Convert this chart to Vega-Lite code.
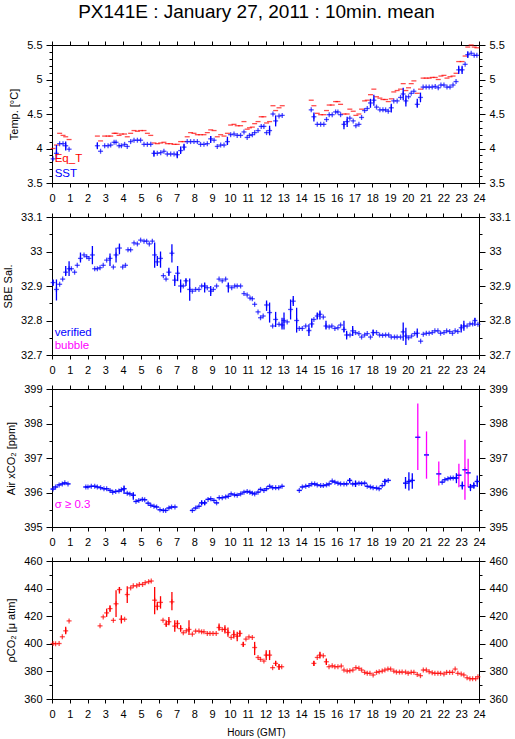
{
  "$schema": "https://vega.github.io/schema/vega-lite/v6.json",
  "background": "white",
  "padding": {"left": 2, "top": 2, "right": 2, "bottom": 0},
  "title": {"text": "PX141E : January 27, 2011 : 10min. mean", "font": "Liberation Sans", "fontSize": 19, "fontWeight": "normal", "color": "black", "anchor": "middle", "offset": 17},
  "config": {
    "view": {"stroke": "black", "strokeWidth": 1},
    "axis": {"labelFont": "Liberation Sans", "titleFont": "Liberation Sans", "labelFontSize": 11, "titleFontSize": 11, "titleFontWeight": "normal", "labelColor": "black", "titleColor": "black", "tickColor": "black", "domainColor": "black", "grid": false, "labelFlush": false, "labelOverlap": false, "tickWidth": 1, "domainWidth": 1},
    "tick": {"thickness": 1.3},
    "text": {"font": "Liberation Sans"}
  },
  "spacing": 34,
  "bounds": "flush",
  "vconcat": [
    {
      "width": 427, "height": 138,
      "layer": [
        {"data": {"name": "eqt"}, "mark": {"type": "tick", "orient": "horizontal", "size": 5, "color": "#ff0000"},
         "encoding": {
           "x": {"field": "t", "type": "quantitative", "scale": {"domain": [0, 24], "nice": false, "zero": false}, "axis": {"orient": "bottom", "values": [0,1,2,3,4,5,6,7,8,9,10,11,12,13,14,15,16,17,18,19,20,21,22,23,24], "tickSize": 4, "labelPadding": 5, "title": null}},
           "y": {"field": "v", "type": "quantitative", "scale": {"domain": [3.5, 5.5], "nice": false, "zero": false}, "axis": {"orient": "left", "values": [3.5, 4, 4.5, 5, 5.5], "format": ".4~r", "tickSize": 6, "labelPadding": 4, "title": "Temp. [°C]", "titlePadding": 7}}}},
        {"data": {"name": "sst"}, "mark": {"type": "tick", "orient": "horizontal", "size": 5, "color": "#0000ff"},
         "encoding": {
           "x": {"field": "t", "type": "quantitative", "scale": {"domain": [0, 24], "nice": false, "zero": false}, "axis": {"orient": "top", "values": [0,1,2,3,4,5,6,7,8,9,10,11,12,13,14,15,16,17,18,19,20,21,22,23,24], "tickSize": 4, "labels": false, "title": null}},
           "y": {"field": "v", "type": "quantitative", "scale": {"domain": [3.5, 5.5], "nice": false, "zero": false}, "axis": {"orient": "right", "values": [3.5, 4, 4.5, 5, 5.5], "format": ".4~r", "tickSize": 6, "labelPadding": 4, "title": null}}}},
        {"data": {"name": "sst"}, "mark": {"type": "tick", "orient": "vertical", "size": 5, "color": "#0000ff"},
         "encoding": {
           "x": {"field": "t", "type": "quantitative", "scale": {"domain": [0, 24], "nice": false, "zero": false}, "axis": null},
           "y": {"field": "v", "type": "quantitative", "scale": {"domain": [3.5, 5.5], "nice": false, "zero": false}, "axis": {"orient": "left", "values": [3.6,3.7,3.8,3.9,4.1,4.2,4.3,4.4,4.6,4.7,4.8,4.9,5.1,5.2,5.3,5.4], "tickSize": 3, "labels": false, "domain": false, "title": null}}}},
        {"data": {"name": "sst"}, "transform": [{"filter": "isValid(datum.lo)"}], "mark": {"type": "rule", "color": "#0000ff", "strokeWidth": 1.3},
         "encoding": {
           "x": {"field": "t", "type": "quantitative", "scale": {"domain": [0, 24], "nice": false, "zero": false}, "axis": null},
           "y": {"field": "lo", "type": "quantitative", "scale": {"domain": [3.5, 5.5], "nice": false, "zero": false}, "axis": {"orient": "right", "values": [3.6,3.7,3.8,3.9,4.1,4.2,4.3,4.4,4.6,4.7,4.8,4.9,5.1,5.2,5.3,5.4], "tickSize": 3, "labels": false, "domain": false, "title": null}},
           "y2": {"field": "hi"}}},
        {"data": {"values": [{}]}, "mark": {"type": "text", "text": "Eq_T", "align": "left", "baseline": "middle", "fontSize": 11.5, "color": "#ff0000"},
         "encoding": {
           "x": {"datum": 0.15, "type": "quantitative", "scale": {"domain": [0, 24], "nice": false, "zero": false}, "axis": null},
           "y": {"datum": 3.85, "type": "quantitative", "scale": {"domain": [3.5, 5.5], "nice": false, "zero": false}, "axis": null}}},
        {"data": {"values": [{}]}, "mark": {"type": "text", "text": "SST", "align": "left", "baseline": "middle", "fontSize": 11.5, "color": "#0000ff"},
         "encoding": {
           "x": {"datum": 0.15, "type": "quantitative", "scale": {"domain": [0, 24], "nice": false, "zero": false}, "axis": null},
           "y": {"datum": 3.63, "type": "quantitative", "scale": {"domain": [3.5, 5.5], "nice": false, "zero": false}, "axis": null}}}
      ],
      "resolve": {"axis": {"x": "independent", "y": "independent"}}
    },
    {
      "width": 427, "height": 138,
      "layer": [
        {"data": {"name": "sal"}, "mark": {"type": "tick", "orient": "horizontal", "size": 5, "color": "#0000ff"},
         "encoding": {
           "x": {"field": "t", "type": "quantitative", "scale": {"domain": [0, 24], "nice": false, "zero": false}, "axis": {"orient": "bottom", "values": [0,1,2,3,4,5,6,7,8,9,10,11,12,13,14,15,16,17,18,19,20,21,22,23,24], "tickSize": 4, "labelPadding": 5, "title": null}},
           "y": {"field": "v", "type": "quantitative", "scale": {"domain": [32.7, 33.1], "nice": false, "zero": false}, "axis": {"orient": "left", "values": [32.7, 32.8, 32.9, 33, 33.1], "format": ".4~r", "tickSize": 6, "labelPadding": 4, "title": "SBE Sal.", "titlePadding": 7}}}},
        {"data": {"name": "sal"}, "mark": {"type": "tick", "orient": "vertical", "size": 5, "color": "#0000ff"},
         "encoding": {
           "x": {"field": "t", "type": "quantitative", "scale": {"domain": [0, 24], "nice": false, "zero": false}, "axis": {"orient": "top", "values": [0,1,2,3,4,5,6,7,8,9,10,11,12,13,14,15,16,17,18,19,20,21,22,23,24], "tickSize": 4, "labels": false, "title": null}},
           "y": {"field": "v", "type": "quantitative", "scale": {"domain": [32.7, 33.1], "nice": false, "zero": false}, "axis": {"orient": "right", "values": [32.7, 32.8, 32.9, 33, 33.1], "format": ".4~r", "tickSize": 6, "labelPadding": 4, "title": null}}}},
        {"data": {"name": "sal"}, "transform": [{"filter": "isValid(datum.lo)"}], "mark": {"type": "rule", "color": "#0000ff", "strokeWidth": 1.3},
         "encoding": {
           "x": {"field": "t", "type": "quantitative", "scale": {"domain": [0, 24], "nice": false, "zero": false}, "axis": null},
           "y": {"field": "lo", "type": "quantitative", "scale": {"domain": [32.7, 33.1], "nice": false, "zero": false}, "axis": {"orient": "left", "values": [32.75, 32.85, 32.95, 33.05], "tickSize": 3, "labels": false, "domain": false, "title": null}},
           "y2": {"field": "hi"}}},
        {"data": {"values": [{}]}, "mark": {"type": "text", "text": "verified", "align": "left", "baseline": "middle", "fontSize": 11.5, "color": "#0000ff"},
         "encoding": {
           "x": {"datum": 0.15, "type": "quantitative", "scale": {"domain": [0, 24], "nice": false, "zero": false}, "axis": null},
           "y": {"datum": 32.765, "type": "quantitative", "scale": {"domain": [32.7, 33.1], "nice": false, "zero": false}, "axis": {"orient": "right", "values": [32.75, 32.85, 32.95, 33.05], "tickSize": 3, "labels": false, "domain": false, "title": null}}}},
        {"data": {"values": [{}]}, "mark": {"type": "text", "text": "bubble", "align": "left", "baseline": "middle", "fontSize": 11.5, "color": "#ff00ff"},
         "encoding": {
           "x": {"datum": 0.15, "type": "quantitative", "scale": {"domain": [0, 24], "nice": false, "zero": false}, "axis": null},
           "y": {"datum": 32.727, "type": "quantitative", "scale": {"domain": [32.7, 33.1], "nice": false, "zero": false}, "axis": null}}}
      ],
      "resolve": {"axis": {"x": "independent", "y": "independent"}}
    },
    {
      "width": 427, "height": 138,
      "layer": [
        {"data": {"name": "xco2"}, "mark": {"type": "tick", "orient": "horizontal", "size": 5, "color": "#0000ff"},
         "encoding": {
           "x": {"field": "t", "type": "quantitative", "scale": {"domain": [0, 24], "nice": false, "zero": false}, "axis": {"orient": "bottom", "values": [0,1,2,3,4,5,6,7,8,9,10,11,12,13,14,15,16,17,18,19,20,21,22,23,24], "tickSize": 4, "labelPadding": 5, "title": null}},
           "y": {"field": "v", "type": "quantitative", "scale": {"domain": [395, 399], "nice": false, "zero": false}, "axis": {"orient": "left", "values": [395, 396, 397, 398, 399], "format": ".4~r", "tickSize": 6, "labelPadding": 4, "title": "Air xCO₂ [ppm]", "titlePadding": 7}}}},
        {"data": {"name": "xco2"}, "mark": {"type": "tick", "orient": "vertical", "size": 5},
         "encoding": {
           "x": {"field": "t", "type": "quantitative", "scale": {"domain": [0, 24], "nice": false, "zero": false}, "axis": {"orient": "top", "values": [0,1,2,3,4,5,6,7,8,9,10,11,12,13,14,15,16,17,18,19,20,21,22,23,24], "tickSize": 4, "labels": false, "title": null}},
           "y": {"field": "v", "type": "quantitative", "scale": {"domain": [395, 399], "nice": false, "zero": false}, "axis": {"orient": "right", "values": [395, 396, 397, 398, 399], "format": ".4~r", "tickSize": 6, "labelPadding": 4, "title": null}},
           "color": {"condition": {"test": "isValid(datum.lo) && (datum.hi - datum.lo) / 2 >= 0.3", "value": "#ff00ff"}, "value": "#0000ff"}}},
        {"data": {"name": "xco2"}, "transform": [{"filter": "isValid(datum.lo)"}], "mark": {"type": "rule", "strokeWidth": 1.3},
         "encoding": {
           "x": {"field": "t", "type": "quantitative", "scale": {"domain": [0, 24], "nice": false, "zero": false}, "axis": null},
           "y": {"field": "lo", "type": "quantitative", "scale": {"domain": [395, 399], "nice": false, "zero": false}, "axis": {"orient": "left", "values": [395.5, 396.5, 397.5, 398.5], "tickSize": 3, "labels": false, "domain": false, "title": null}},
           "y2": {"field": "hi"},
           "color": {"condition": {"test": "(datum.hi - datum.lo) / 2 >= 0.3", "value": "#ff00ff"}, "value": "#0000ff"}}},
        {"data": {"name": "xco2"}, "mark": {"type": "tick", "orient": "horizontal", "size": 5, "color": "#0000ff"},
         "encoding": {
           "x": {"field": "t", "type": "quantitative", "scale": {"domain": [0, 24], "nice": false, "zero": false}, "axis": null},
           "y": {"field": "v", "type": "quantitative", "scale": {"domain": [395, 399], "nice": false, "zero": false}, "axis": {"orient": "right", "values": [395.5, 396.5, 397.5, 398.5], "tickSize": 3, "labels": false, "domain": false, "title": null}}}},
        {"data": {"values": [{}]}, "mark": {"type": "text", "text": "σ ≥ 0.3", "align": "left", "baseline": "middle", "fontSize": 11.5, "color": "#ff00ff"},
         "encoding": {
           "x": {"datum": 0.15, "type": "quantitative", "scale": {"domain": [0, 24], "nice": false, "zero": false}, "axis": null},
           "y": {"datum": 395.65, "type": "quantitative", "scale": {"domain": [395, 399], "nice": false, "zero": false}, "axis": null}}}
      ],
      "resolve": {"axis": {"x": "independent", "y": "independent"}}
    },
    {
      "width": 427, "height": 138,
      "layer": [
        {"data": {"name": "pco2"}, "mark": {"type": "tick", "orient": "horizontal", "size": 5, "color": "#ff0000"},
         "encoding": {
           "x": {"field": "t", "type": "quantitative", "scale": {"domain": [0, 24], "nice": false, "zero": false}, "axis": {"orient": "bottom", "values": [0,1,2,3,4,5,6,7,8,9,10,11,12,13,14,15,16,17,18,19,20,21,22,23,24], "tickSize": 4, "labelPadding": 5, "title": "Hours (GMT)", "titleFontSize": 10, "titlePadding": 8, "titleX": 204}},
           "y": {"field": "v", "type": "quantitative", "scale": {"domain": [360, 460], "nice": false, "zero": false}, "axis": {"orient": "left", "values": [360, 380, 400, 420, 440, 460], "format": ".4~r", "tickSize": 6, "labelPadding": 4, "title": "ρCO₂ [μ atm]", "titlePadding": 7}}}},
        {"data": {"name": "pco2"}, "mark": {"type": "tick", "orient": "vertical", "size": 5, "color": "#ff0000"},
         "encoding": {
           "x": {"field": "t", "type": "quantitative", "scale": {"domain": [0, 24], "nice": false, "zero": false}, "axis": {"orient": "top", "values": [0,1,2,3,4,5,6,7,8,9,10,11,12,13,14,15,16,17,18,19,20,21,22,23,24], "tickSize": 4, "labels": false, "title": null}},
           "y": {"field": "v", "type": "quantitative", "scale": {"domain": [360, 460], "nice": false, "zero": false}, "axis": {"orient": "right", "values": [360, 380, 400, 420, 440, 460], "format": ".4~r", "tickSize": 6, "labelPadding": 4, "title": null}}}},
        {"data": {"name": "pco2"}, "transform": [{"filter": "isValid(datum.lo)"}], "mark": {"type": "rule", "color": "#ff0000", "strokeWidth": 1.3},
         "encoding": {
           "x": {"field": "t", "type": "quantitative", "scale": {"domain": [0, 24], "nice": false, "zero": false}, "axis": null},
           "y": {"field": "lo", "type": "quantitative", "scale": {"domain": [360, 460], "nice": false, "zero": false}, "axis": {"orient": "left", "values": [370, 390, 410, 430, 450], "tickSize": 3, "labels": false, "domain": false, "title": null}},
           "y2": {"field": "hi"}}},
        {"data": {"values": [{}]}, "mark": {"type": "text", "text": "", "opacity": 0},
         "encoding": {
           "x": {"datum": 0, "type": "quantitative", "scale": {"domain": [0, 24], "nice": false, "zero": false}, "axis": null},
           "y": {"datum": 400, "type": "quantitative", "scale": {"domain": [360, 460], "nice": false, "zero": false}, "axis": {"orient": "right", "values": [370, 390, 410, 430, 450], "tickSize": 3, "labels": false, "domain": false, "title": null}}}}
      ],
      "resolve": {"axis": {"x": "independent", "y": "independent"}}
    }
  ],
  "datasets": {
    "sst": [
      {"t":0.06,"v":3.85},{"t":0.25,"v":3.93,"lo":3.85,"hi":4.05},{"t":0.43,"v":4.07},{"t":0.62,"v":4.07},{"t":0.77,"v":4.04,"lo":3.97,"hi":4.1},{"t":0.96,"v":3.99},
      {"t":2.55,"v":4.04,"lo":3.99,"hi":4.09},{"t":2.73,"v":3.96},{"t":2.96,"v":4.04},{"t":3.15,"v":4.04},{"t":3.3,"v":4.05},{"t":3.49,"v":4.09},{"t":3.6,"v":4.09},{"t":3.77,"v":4.04},{"t":3.9,"v":4.04},
      {"t":4.08,"v":4.06},{"t":4.23,"v":4.03},{"t":4.42,"v":4.1},{"t":4.61,"v":4.12},{"t":4.8,"v":4.12},{"t":4.98,"v":4.12},{"t":5.17,"v":4.06},{"t":5.36,"v":4.06},{"t":5.55,"v":4.06},
      {"t":5.73,"v":3.93,"lo":3.88,"hi":3.97},{"t":5.92,"v":3.93},{"t":6.11,"v":3.94},{"t":6.29,"v":3.96},{"t":6.48,"v":3.92},{"t":6.67,"v":3.92},{"t":6.86,"v":3.92},
      {"t":7.04,"v":3.91,"lo":3.86,"hi":3.96},{"t":7.23,"v":3.97,"lo":3.92,"hi":4.03},{"t":7.42,"v":4.02,"lo":3.97,"hi":4.07},{"t":7.6,"v":4.1},{"t":7.79,"v":4.1},{"t":7.98,"v":4.1},
      {"t":8.17,"v":4.1},{"t":8.35,"v":4.06},{"t":8.54,"v":4.06},{"t":8.73,"v":4.07},{"t":8.92,"v":4.14,"lo":4.08,"hi":4.18},{"t":9.11,"v":4.12},{"t":9.29,"v":4.03},{"t":9.48,"v":4.05},{"t":9.67,"v":4.05},
      {"t":9.86,"v":4.1,"lo":4.05,"hi":4.17},{"t":10.04,"v":4.2},{"t":10.23,"v":4.21},{"t":10.41,"v":4.19},{"t":10.6,"v":4.19},{"t":10.79,"v":4.24},{"t":10.97,"v":4.16},{"t":11.1,"v":4.19},
      {"t":11.26,"v":4.2},{"t":11.39,"v":4.23},{"t":11.58,"v":4.26},{"t":11.76,"v":4.32},{"t":11.91,"v":4.32},{"t":12.06,"v":4.23},{"t":12.23,"v":4.26,"lo":4.19,"hi":4.33},
      {"t":12.42,"v":4.5},{"t":12.57,"v":4.4,"lo":4.32,"hi":4.48},{"t":12.76,"v":4.47},{"t":12.94,"v":4.48},
      {"t":14.57,"v":4.56},{"t":14.72,"v":4.46,"lo":4.39,"hi":4.52},{"t":14.91,"v":4.35},{"t":15.1,"v":4.35},{"t":15.28,"v":4.35},{"t":15.43,"v":4.42},{"t":15.58,"v":4.49},{"t":15.75,"v":4.49},
      {"t":15.94,"v":4.53},{"t":16.07,"v":4.53},{"t":16.22,"v":4.49},{"t":16.41,"v":4.35,"lo":4.28,"hi":4.4},{"t":16.59,"v":4.39,"lo":4.31,"hi":4.46},{"t":16.74,"v":4.44},{"t":16.93,"v":4.4},
      {"t":17.08,"v":4.33},{"t":17.25,"v":4.35},{"t":17.4,"v":4.45},{"t":17.57,"v":4.55},{"t":17.72,"v":4.58},{"t":17.9,"v":4.66,"lo":4.59,"hi":4.72},{"t":18.09,"v":4.7,"lo":4.62,"hi":4.78},
      {"t":18.24,"v":4.6},{"t":18.43,"v":4.56},{"t":18.6,"v":4.56},{"t":18.75,"v":4.56},{"t":18.9,"v":4.54},{"t":19.07,"v":4.59,"lo":4.52,"hi":4.65},{"t":19.21,"v":4.69},{"t":19.4,"v":4.69},
      {"t":19.59,"v":4.74},{"t":19.74,"v":4.79,"lo":4.7,"hi":4.88},{"t":19.89,"v":4.69,"lo":4.61,"hi":4.77},{"t":20.04,"v":4.75},{"t":20.19,"v":4.8},{"t":20.34,"v":4.83},
      {"t":20.53,"v":4.64,"lo":4.59,"hi":4.72},{"t":20.71,"v":4.74,"lo":4.67,"hi":4.81},{"t":20.86,"v":4.89},{"t":21.03,"v":4.89},{"t":21.2,"v":4.89},{"t":21.37,"v":4.89},{"t":21.54,"v":4.9},
      {"t":21.71,"v":4.88},{"t":21.86,"v":4.92},{"t":22.03,"v":4.92},{"t":22.2,"v":4.89},{"t":22.37,"v":4.89},{"t":22.54,"v":4.92},{"t":22.71,"v":4.97},
      {"t":22.86,"v":5.14,"lo":5.08,"hi":5.2},{"t":23.05,"v":5.14,"lo":5.08,"hi":5.2},{"t":23.22,"v":5.22},{"t":23.37,"v":5.36,"lo":5.31,"hi":5.41},{"t":23.56,"v":5.38},{"t":23.73,"v":5.35},{"t":23.88,"v":5.35}
    ],
    "eqt": [
      {"t":0.06,"v":4.0},{"t":0.25,"v":4.05},{"t":0.43,"v":4.22},{"t":0.62,"v":4.19},{"t":0.77,"v":4.17},{"t":0.96,"v":4.13},
      {"t":2.55,"v":4.18},{"t":2.73,"v":4.11},{"t":2.96,"v":4.18},{"t":3.15,"v":4.18},{"t":3.3,"v":4.18},{"t":3.49,"v":4.22},{"t":3.6,"v":4.22},{"t":3.77,"v":4.19},{"t":3.9,"v":4.21},
      {"t":4.08,"v":4.21},{"t":4.23,"v":4.17},{"t":4.42,"v":4.22},{"t":4.61,"v":4.26},{"t":4.8,"v":4.25},{"t":4.98,"v":4.26},{"t":5.17,"v":4.26},{"t":5.36,"v":4.22},{"t":5.55,"v":4.19},
      {"t":5.73,"v":4.08},{"t":5.92,"v":4.07},{"t":6.11,"v":4.08},{"t":6.29,"v":4.09},{"t":6.48,"v":4.07},{"t":6.67,"v":4.07},{"t":6.86,"v":4.06},{"t":7.04,"v":4.06},{"t":7.23,"v":4.1},
      {"t":7.42,"v":4.1},{"t":7.6,"v":4.17},{"t":7.79,"v":4.23},{"t":7.98,"v":4.22},{"t":8.17,"v":4.2},{"t":8.35,"v":4.2},{"t":8.54,"v":4.2},{"t":8.73,"v":4.23},{"t":8.92,"v":4.27},
      {"t":9.11,"v":4.26},{"t":9.29,"v":4.17},{"t":9.48,"v":4.2},{"t":9.67,"v":4.18},{"t":9.86,"v":4.22},{"t":10.04,"v":4.34},{"t":10.23,"v":4.35},{"t":10.41,"v":4.33},{"t":10.6,"v":4.33},
      {"t":10.79,"v":4.39},{"t":10.97,"v":4.28},{"t":11.1,"v":4.3},{"t":11.26,"v":4.31},{"t":11.39,"v":4.36},{"t":11.58,"v":4.39},{"t":11.76,"v":4.46},{"t":11.91,"v":4.46},{"t":12.06,"v":4.37},
      {"t":12.23,"v":4.39},{"t":12.42,"v":4.62},{"t":12.57,"v":4.55},{"t":12.76,"v":4.59},{"t":12.94,"v":4.62},
      {"t":14.57,"v":4.7},{"t":14.72,"v":4.62},{"t":14.91,"v":4.51},{"t":15.1,"v":4.49},{"t":15.28,"v":4.49},{"t":15.43,"v":4.55},{"t":15.58,"v":4.63},{"t":15.75,"v":4.63},{"t":15.94,"v":4.68},
      {"t":16.07,"v":4.68},{"t":16.22,"v":4.64},{"t":16.41,"v":4.5},{"t":16.59,"v":4.5},{"t":16.74,"v":4.57},{"t":16.93,"v":4.54},{"t":17.08,"v":4.48},{"t":17.25,"v":4.5},{"t":17.4,"v":4.57},
      {"t":17.57,"v":4.69},{"t":17.72,"v":4.7},{"t":17.9,"v":4.78},{"t":18.09,"v":4.86},{"t":18.24,"v":4.75},{"t":18.43,"v":4.73},{"t":18.6,"v":4.71},{"t":18.75,"v":4.71},{"t":18.9,"v":4.68},
      {"t":19.07,"v":4.72},{"t":19.21,"v":4.82},{"t":19.4,"v":4.84},{"t":19.59,"v":4.86},{"t":19.74,"v":4.94},{"t":19.89,"v":4.84},{"t":20.04,"v":4.88},{"t":20.19,"v":4.94},{"t":20.34,"v":4.98},
      {"t":20.53,"v":4.8},{"t":20.71,"v":4.86},{"t":20.86,"v":5.02},{"t":21.03,"v":5.02},{"t":21.2,"v":5.02},{"t":21.37,"v":5.03},{"t":21.54,"v":5.03},{"t":21.71,"v":5.0},{"t":21.86,"v":5.05},
      {"t":22.03,"v":5.06},{"t":22.2,"v":5.02},{"t":22.37,"v":5.04},{"t":22.54,"v":5.05},{"t":22.71,"v":5.09},{"t":22.86,"v":5.26},{"t":23.05,"v":5.26},{"t":23.22,"v":5.34},{"t":23.37,"v":5.47},
      {"t":23.56,"v":5.5},{"t":23.73,"v":5.47},{"t":23.88,"v":5.46}
    ],
    "sal": [
      {"t":0.06,"v":32.91,"lo":32.9,"hi":32.919},{"t":0.25,"v":32.89,"lo":32.858,"hi":32.919},{"t":0.43,"v":32.905},{"t":0.6,"v":32.92},{"t":0.77,"v":32.94,"lo":32.929,"hi":32.958},
      {"t":0.96,"v":32.95,"lo":32.929,"hi":32.972},{"t":1.09,"v":32.95},{"t":1.27,"v":32.94},{"t":1.42,"v":32.96},{"t":1.6,"v":32.98,"lo":32.968,"hi":32.997},{"t":1.8,"v":32.99},{"t":1.95,"v":32.985},
      {"t":2.08,"v":32.98},{"t":2.27,"v":32.99,"lo":32.963,"hi":33.016},{"t":2.4,"v":32.95},{"t":2.55,"v":32.95},{"t":2.7,"v":32.953},{"t":2.88,"v":32.96},{"t":3.07,"v":32.975},
      {"t":3.26,"v":32.98,"lo":32.958,"hi":32.994},{"t":3.45,"v":32.955},{"t":3.6,"v":32.99,"lo":32.968,"hi":33.011},{"t":3.79,"v":33.01,"lo":32.992,"hi":33.023},{"t":3.97,"v":32.955},
      {"t":4.13,"v":32.96},{"t":4.27,"v":33.005},{"t":4.42,"v":33.005},{"t":4.61,"v":33.025},{"t":4.8,"v":33.022},{"t":4.98,"v":33.033},{"t":5.17,"v":33.03},{"t":5.32,"v":33.03},{"t":5.47,"v":33.022},
      {"t":5.64,"v":33.03},{"t":5.77,"v":32.99,"lo":32.953,"hi":33.026},{"t":5.92,"v":32.97,"lo":32.958,"hi":32.987},{"t":6.1,"v":32.98,"lo":32.953,"hi":33.0},{"t":6.26,"v":32.93},{"t":6.41,"v":32.92},
      {"t":6.57,"v":32.94,"lo":32.929,"hi":32.953},{"t":6.74,"v":32.995,"lo":32.968,"hi":33.021},{"t":6.9,"v":32.917,"lo":32.9,"hi":32.932},{"t":7.06,"v":32.937,"lo":32.914,"hi":32.958},
      {"t":7.23,"v":32.9,"lo":32.881,"hi":32.919},{"t":7.38,"v":32.9},{"t":7.53,"v":32.915,"lo":32.9,"hi":32.922},{"t":7.74,"v":32.89,"lo":32.857,"hi":32.922},{"t":7.89,"v":32.885},{"t":8.07,"v":32.89},
      {"t":8.26,"v":32.89},{"t":8.41,"v":32.9},{"t":8.58,"v":32.9,"lo":32.881,"hi":32.91},{"t":8.73,"v":32.895},{"t":8.92,"v":32.885,"lo":32.871,"hi":32.9},{"t":9.07,"v":32.89},{"t":9.25,"v":32.9},
      {"t":9.39,"v":32.92},{"t":9.57,"v":32.915},{"t":9.76,"v":32.92},{"t":9.91,"v":32.9,"lo":32.881,"hi":32.91},{"t":10.1,"v":32.895},{"t":10.27,"v":32.9},{"t":10.41,"v":32.9},{"t":10.6,"v":32.9},
      {"t":10.79,"v":32.878},{"t":10.97,"v":32.874},{"t":11.13,"v":32.865},{"t":11.26,"v":32.863},{"t":11.39,"v":32.847},{"t":11.58,"v":32.825},{"t":11.72,"v":32.808},{"t":11.87,"v":32.813},
      {"t":12.06,"v":32.845,"lo":32.828,"hi":32.858},{"t":12.23,"v":32.823,"lo":32.794,"hi":32.852},{"t":12.4,"v":32.784},{"t":12.57,"v":32.803,"lo":32.781,"hi":32.825},{"t":12.76,"v":32.789},
      {"t":12.93,"v":32.787,"lo":32.774,"hi":32.808},{"t":13.04,"v":32.8,"lo":32.774,"hi":32.823},{"t":13.22,"v":32.796},{"t":13.41,"v":32.832,"lo":32.803,"hi":32.861},{"t":13.56,"v":32.856,"lo":32.842,"hi":32.871},
      {"t":13.75,"v":32.8,"lo":32.765,"hi":32.837},{"t":13.9,"v":32.777},{"t":14.07,"v":32.777},{"t":14.26,"v":32.784},{"t":14.44,"v":32.771,"lo":32.755,"hi":32.789},{"t":14.6,"v":32.79,"lo":32.779,"hi":32.806},
      {"t":14.72,"v":32.803},{"t":14.91,"v":32.813,"lo":32.803,"hi":32.823},{"t":15.06,"v":32.818,"lo":32.803,"hi":32.829},{"t":15.25,"v":32.81},{"t":15.4,"v":32.784,"lo":32.774,"hi":32.799},
      {"t":15.58,"v":32.781},{"t":15.73,"v":32.784},{"t":15.9,"v":32.777},{"t":16.07,"v":32.779},{"t":16.22,"v":32.787},{"t":16.41,"v":32.774,"lo":32.765,"hi":32.799},{"t":16.56,"v":32.758,"lo":32.745,"hi":32.77},
      {"t":16.75,"v":32.758},{"t":16.9,"v":32.77,"lo":32.755,"hi":32.784},{"t":17.06,"v":32.765},{"t":17.25,"v":32.762},{"t":17.4,"v":32.752},{"t":17.57,"v":32.758},{"t":17.72,"v":32.762},{"t":17.9,"v":32.752},
      {"t":18.05,"v":32.765,"lo":32.755,"hi":32.774},{"t":18.24,"v":32.765},{"t":18.41,"v":32.758},{"t":18.58,"v":32.757},{"t":18.75,"v":32.758},{"t":18.92,"v":32.758},{"t":19.07,"v":32.752},
      {"t":19.25,"v":32.752},{"t":19.4,"v":32.752},{"t":19.59,"v":32.752},{"t":19.74,"v":32.767,"lo":32.741,"hi":32.794},{"t":19.89,"v":32.755,"lo":32.729,"hi":32.779},{"t":20.04,"v":32.75},
      {"t":20.21,"v":32.755},{"t":20.38,"v":32.762},{"t":20.53,"v":32.763,"lo":32.75,"hi":32.777},{"t":20.72,"v":32.74},{"t":20.87,"v":32.76},{"t":21.04,"v":32.763},{"t":21.2,"v":32.763},
      {"t":21.37,"v":32.765},{"t":21.52,"v":32.77},{"t":21.69,"v":32.77},{"t":21.84,"v":32.763},{"t":22.03,"v":32.765},{"t":22.18,"v":32.77},{"t":22.35,"v":32.768},{"t":22.51,"v":32.763},
      {"t":22.66,"v":32.77},{"t":22.81,"v":32.768},{"t":23.0,"v":32.779,"lo":32.765,"hi":32.789},{"t":23.15,"v":32.784,"lo":32.77,"hi":32.799},{"t":23.33,"v":32.784},{"t":23.49,"v":32.79},
      {"t":23.64,"v":32.79},{"t":23.77,"v":32.8,"lo":32.784,"hi":32.808},{"t":23.94,"v":32.789}
    ],
    "xco2": [
      {"t":0.06,"v":396.1},{"t":0.2,"v":396.16},{"t":0.4,"v":396.22},{"t":0.58,"v":396.25},{"t":0.72,"v":396.28},{"t":0.9,"v":396.25},
      {"t":1.9,"v":396.16},{"t":2.02,"v":396.16},{"t":2.21,"v":396.18},{"t":2.4,"v":396.18},{"t":2.55,"v":396.16},{"t":2.73,"v":396.14},{"t":2.92,"v":396.11},{"t":3.07,"v":396.11},
      {"t":3.26,"v":396.06},{"t":3.41,"v":396.01},{"t":3.58,"v":396.03},{"t":3.76,"v":396.04},{"t":3.9,"v":396.08},{"t":4.05,"v":396.11,"lo":395.96,"hi":396.2},{"t":4.23,"v":395.98},
      {"t":4.38,"v":395.96},{"t":4.57,"v":395.92,"lo":395.79,"hi":396.01},{"t":4.72,"v":395.74},{"t":4.88,"v":395.77},{"t":5.08,"v":395.8},{"t":5.21,"v":395.79},{"t":5.4,"v":395.69},
      {"t":5.55,"v":395.63},{"t":5.73,"v":395.6},{"t":5.88,"v":395.58},{"t":6.07,"v":395.5},{"t":6.26,"v":395.48},{"t":6.39,"v":395.48},{"t":6.57,"v":395.55},{"t":6.72,"v":395.58},{"t":6.91,"v":395.58},
      {"t":7.89,"v":395.48},{"t":8.07,"v":395.55},{"t":8.26,"v":395.6},{"t":8.41,"v":395.7,"lo":395.63,"hi":395.77},{"t":8.58,"v":395.7,"lo":395.63,"hi":395.77},{"t":8.77,"v":395.8},
      {"t":8.92,"v":395.82},{"t":9.1,"v":395.77},{"t":9.25,"v":395.7},{"t":9.4,"v":395.85},{"t":9.57,"v":395.85},{"t":9.76,"v":395.87},{"t":9.91,"v":395.89},{"t":10.07,"v":395.96},
      {"t":10.26,"v":395.93},{"t":10.41,"v":395.92},{"t":10.6,"v":395.96},{"t":10.79,"v":396.01},{"t":10.97,"v":396.03},{"t":11.12,"v":396.01},
      {"t":11.26,"v":395.98},{"t":11.39,"v":395.96},{"t":11.58,"v":396.01},{"t":11.72,"v":396.09},{"t":11.91,"v":396.06},{"t":12.06,"v":396.11},{"t":12.23,"v":396.18},{"t":12.4,"v":396.14},
      {"t":12.57,"v":396.14},{"t":12.74,"v":396.14},{"t":12.93,"v":396.18},
      {"t":13.9,"v":396.06},{"t":14.07,"v":396.16},{"t":14.26,"v":396.18},{"t":14.44,"v":396.2},{"t":14.6,"v":396.25},{"t":14.76,"v":396.25},{"t":14.91,"v":396.22},{"t":15.1,"v":396.2},
      {"t":15.25,"v":396.2},{"t":15.43,"v":396.22},{"t":15.58,"v":396.25},{"t":15.75,"v":396.33},{"t":15.9,"v":396.3},{"t":16.07,"v":396.27},{"t":16.22,"v":396.25},{"t":16.41,"v":396.25},
      {"t":16.56,"v":396.25},{"t":16.73,"v":396.35,"lo":396.27,"hi":396.42},{"t":16.9,"v":396.25},{"t":17.06,"v":396.25,"lo":396.16,"hi":396.35},{"t":17.25,"v":396.27},{"t":17.4,"v":396.26},
      {"t":17.57,"v":396.27},{"t":17.72,"v":396.18},{"t":17.9,"v":396.16},{"t":18.05,"v":396.14},{"t":18.24,"v":396.13},{"t":18.39,"v":396.11},{"t":18.56,"v":396.2},
      {"t":18.71,"v":396.32,"lo":396.2,"hi":396.4},{"t":18.9,"v":396.35},
      {"t":19.87,"v":396.27,"lo":396.11,"hi":396.45},{"t":20.06,"v":396.32,"lo":396.06,"hi":396.59},{"t":20.25,"v":396.35,"lo":396.11,"hi":396.56},
      {"t":20.56,"v":397.6,"lo":396.65,"hi":398.58},{"t":21.05,"v":397.09,"lo":396.4,"hi":397.77},{"t":21.74,"v":396.54,"lo":396.2,"hi":396.9},
      {"t":21.93,"v":396.3},{"t":22.08,"v":396.37},{"t":22.25,"v":396.4},{"t":22.4,"v":396.42},{"t":22.55,"v":396.42},{"t":22.73,"v":396.42,"lo":396.27,"hi":396.56},
      {"t":22.87,"v":396.5,"lo":396.15,"hi":396.83},{"t":23.06,"v":396.2,"lo":396.09,"hi":396.32},{"t":23.21,"v":396.66,"lo":395.79,"hi":397.53},{"t":23.39,"v":396.57,"lo":396.15,"hi":396.98},
      {"t":23.52,"v":396.16,"lo":396.04,"hi":396.25},{"t":23.71,"v":396.2,"lo":396.11,"hi":396.3},{"t":23.9,"v":396.32,"lo":396.16,"hi":396.49}
    ],
    "pco2": [
      {"t":0.06,"v":400.2},{"t":0.2,"v":400.0},{"t":0.4,"v":400.2},{"t":0.58,"v":405.1},{"t":0.77,"v":409.4,"lo":407,"hi":412.3},{"t":0.96,"v":416.6},
      {"t":2.7,"v":413},{"t":2.88,"v":419.5},{"t":3.07,"v":422.4,"lo":419.5,"hi":425.5},{"t":3.26,"v":425.5,"lo":423.1,"hi":428},{"t":3.45,"v":417},{"t":3.6,"v":429,"lo":419.5,"hi":438.8},
      {"t":3.79,"v":439.3,"lo":436.4,"hi":441.2},{"t":3.9,"v":417.8,"lo":414.7,"hi":420.7},{"t":4.08,"v":417.8},{"t":4.23,"v":435.7,"lo":429.6,"hi":441.7},{"t":4.42,"v":440.5},{"t":4.57,"v":442},
      {"t":4.76,"v":442},{"t":4.91,"v":443},{"t":5.09,"v":443},{"t":5.24,"v":444.3},{"t":5.43,"v":445},{"t":5.58,"v":445.5},{"t":5.77,"v":431.6,"lo":421.4,"hi":441.2},
      {"t":5.92,"v":427.2,"lo":424.3,"hi":430.4},{"t":6.1,"v":430,"lo":425.5,"hi":434.5},{"t":6.24,"v":417.1},{"t":6.42,"v":414.2,"lo":412.3,"hi":417.1},{"t":6.57,"v":416,"lo":413.5,"hi":419.5},
      {"t":6.74,"v":430.4,"lo":424.3,"hi":437.6},{"t":6.9,"v":412.8,"lo":408.7,"hi":417.1},{"t":7.05,"v":414.7,"lo":411.1,"hi":417.1},{"t":7.23,"v":411,"lo":408.7,"hi":413.5},{"t":7.38,"v":408},
      {"t":7.55,"v":409.4},{"t":7.7,"v":410.4,"lo":406.3,"hi":417.1},{"t":7.89,"v":407},{"t":8.07,"v":409.2},{"t":8.26,"v":409.2},{"t":8.41,"v":408.7},{"t":8.54,"v":408.7},{"t":8.73,"v":407.5},
      {"t":8.88,"v":407.5},{"t":9.05,"v":407.5},{"t":9.23,"v":407.5},{"t":9.39,"v":411.8,"lo":409.4,"hi":414.7},{"t":9.57,"v":410.4},{"t":9.72,"v":410.4,"lo":407.5,"hi":413.5},
      {"t":9.89,"v":408.2,"lo":405.1,"hi":411.8},{"t":10.07,"v":404.6},{"t":10.22,"v":406.7,"lo":403.9,"hi":409.9},{"t":10.41,"v":405.5,"lo":401.9,"hi":408.7},{"t":10.56,"v":407.5,"lo":405.1,"hi":409.9},
      {"t":10.75,"v":399.5,"lo":397.8,"hi":401.4},{"t":10.9,"v":403.4},{"t":11.07,"v":405},{"t":11.26,"v":404.6},{"t":11.39,"v":397.3,"lo":391.8,"hi":401.4},{"t":11.58,"v":390.1},{"t":11.72,"v":388.7},
      {"t":11.91,"v":387.5},{"t":12.04,"v":391.8,"lo":388.2,"hi":395.4},{"t":12.23,"v":391.8,"lo":388.2,"hi":395.4},{"t":12.4,"v":382.7},{"t":12.57,"v":385.8,"lo":383.9,"hi":387.7},
      {"t":12.76,"v":383.4,"lo":381,"hi":385.3},{"t":12.91,"v":383.4},
      {"t":14.72,"v":385.8,"lo":383.9,"hi":387.7},{"t":14.91,"v":390.1},{"t":15.06,"v":391.8,"lo":389.4,"hi":394.2},{"t":15.25,"v":391.3},{"t":15.42,"v":387,"lo":384.6,"hi":389.4},
      {"t":15.57,"v":383.4},{"t":15.75,"v":384.1},{"t":15.9,"v":383.4},{"t":16.07,"v":383.4},{"t":16.26,"v":383.9},{"t":16.41,"v":381},{"t":16.59,"v":380.2},{"t":16.74,"v":380.5},
      {"t":16.91,"v":381},{"t":17.08,"v":382.7},{"t":17.25,"v":382.2},{"t":17.4,"v":381},{"t":17.57,"v":379.3},{"t":17.72,"v":378.6},{"t":17.87,"v":378.6},{"t":18.05,"v":377.4},
      {"t":18.24,"v":379.3},{"t":18.39,"v":379.8},{"t":18.56,"v":380.2},{"t":18.71,"v":381},{"t":18.88,"v":381.7},{"t":19.03,"v":381.7},{"t":19.21,"v":380.2},{"t":19.36,"v":379.5},
      {"t":19.53,"v":379.5},{"t":19.68,"v":379.5},{"t":19.87,"v":379.5},{"t":20.02,"v":378.6},{"t":20.19,"v":379.3},{"t":20.34,"v":379.3},{"t":20.53,"v":377.8},{"t":20.71,"v":376.9},
      {"t":20.87,"v":381},{"t":21.04,"v":381},{"t":21.2,"v":379.8},{"t":21.37,"v":379},{"t":21.52,"v":378.6},{"t":21.69,"v":378.6},{"t":21.84,"v":378.6},{"t":22.03,"v":378.1},
      {"t":22.18,"v":379.3},{"t":22.35,"v":379.3},{"t":22.51,"v":379.3},{"t":22.66,"v":381.7},{"t":22.81,"v":378.6},{"t":23.0,"v":378.1},{"t":23.15,"v":377.4},{"t":23.33,"v":375.4},
      {"t":23.49,"v":374.7},{"t":23.64,"v":374.7},{"t":23.81,"v":374.7},{"t":23.94,"v":376.1}
    ]
  }
}
